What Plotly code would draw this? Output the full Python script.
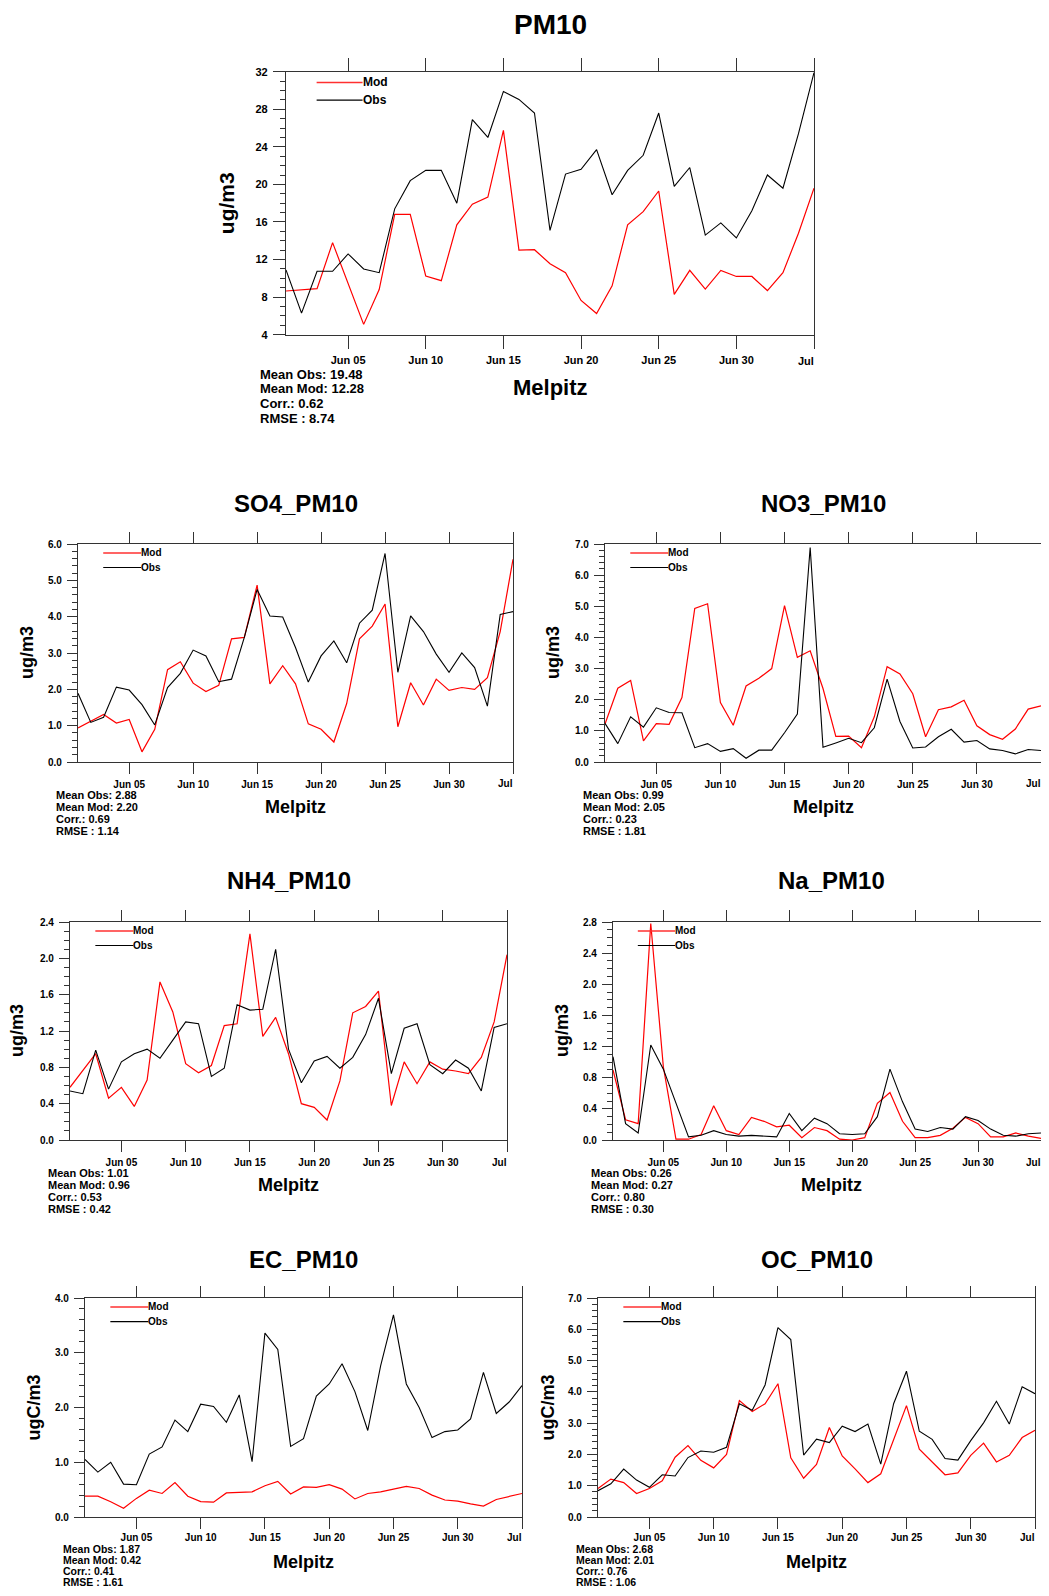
import plotly.graph_objects as go
import pandas as pd

# ---------------- data ----------------
dates = pd.date_range("2012-06-01", "2012-07-05", freq="D").strftime("%Y-%m-%d").tolist()
tick_dates = ["2012-06-05", "2012-06-10", "2012-06-15", "2012-06-20", "2012-06-25", "2012-06-30", "2012-07-05"]
tick_labels = ["Jun 05", "Jun 10", "Jun 15", "Jun 20", "Jun 25", "Jun 30", "Jul"]

pm10_obs = [10.9, 6.3, 10.75, 10.75, 12.6, 11.0, 10.6, 17.4, 20.4, 21.5, 21.5, 18.0, 26.9, 25.0, 29.9,
            29.05, 27.6, 15.1, 21.1, 21.6, 23.7, 18.9, 21.5, 23.1, 27.6, 19.8, 21.8, 14.6, 15.9, 14.3,
            17.2, 21.0, 19.6, 25.4, 31.9]
pm10_mod = [8.65, 8.8, 8.9, 13.8, 9.5, 5.1, 8.8, 16.8, 16.8, 10.25, 9.75, 15.7, 17.9, 18.65, 25.75,
            13.0, 13.05, 11.55, 10.6, 7.65, 6.25, 9.2, 15.7, 17.1, 19.3, 8.3, 10.85, 8.85, 10.85, 10.2,
            10.2, 8.7, 10.6, 14.8, 19.6]

so4_obs = [1.89, 1.09, 1.23, 2.06, 1.98, 1.58, 1.02, 2.05, 2.44, 3.08, 2.92, 2.21, 2.28, 3.43, 4.75,
           4.02, 3.99, 3.15, 2.2, 2.92, 3.33, 2.73, 3.82, 4.18, 5.74, 2.47, 4.02, 3.59, 2.97, 2.47,
           3.0, 2.6, 1.54, 4.06, 4.14]
so4_mod = [0.94, 1.12, 1.31, 1.07, 1.17, 0.28, 0.9, 2.54, 2.76, 2.17, 1.94, 2.11, 3.39, 3.43, 4.87,
           2.15, 2.65, 2.15, 1.05, 0.9, 0.55, 1.61, 3.39, 3.74, 4.35, 0.97, 2.18, 1.57, 2.28, 1.97,
           2.05, 2.0, 2.32, 3.59, 5.58]

no3_obs = [1.24, 0.59, 1.45, 1.12, 1.74, 1.59, 1.58, 0.46, 0.59, 0.34, 0.43, 0.12, 0.38, 0.38, 0.94,
           1.54, 6.89, 0.47, 0.61, 0.76, 0.62, 1.1, 2.66, 1.3, 0.45, 0.48, 0.81, 1.05, 0.64, 0.69,
           0.42, 0.37, 0.26, 0.4, 0.37]
no3_mod = [1.22, 2.37, 2.62, 0.68, 1.23, 1.21, 2.07, 4.93, 5.08, 1.91, 1.18, 2.44, 2.69, 3.0, 5.02,
           3.36, 3.57, 2.36, 0.82, 0.83, 0.46, 1.45, 3.06, 2.83, 2.19, 0.81, 1.68, 1.77, 1.98, 1.16,
           0.88, 0.73, 1.06, 1.7, 1.8]

nh4_obs = [0.54, 0.51, 0.99, 0.56, 0.86, 0.95, 1.0, 0.9, 1.1, 1.3, 1.28, 0.7, 0.79, 1.49, 1.43,
           1.44, 2.1, 1.0, 0.63, 0.87, 0.92, 0.79, 0.91, 1.16, 1.56, 0.73, 1.23, 1.28, 0.83, 0.73,
           0.88, 0.79, 0.54, 1.24, 1.28]
nh4_mod = [0.58, 0.77, 0.95, 0.46, 0.58, 0.37, 0.66, 1.74, 1.41, 0.84, 0.74, 0.82, 1.26, 1.28, 2.27,
           1.14, 1.35, 0.95, 0.4, 0.36, 0.22, 0.65, 1.4, 1.47, 1.64, 0.38, 0.86, 0.62, 0.86, 0.78,
           0.76, 0.73, 0.91, 1.3, 2.04]

na_obs = [1.07, 0.21, 0.09, 1.22, 0.91, 0.48, 0.04, 0.06, 0.12, 0.07, 0.05, 0.06, 0.05, 0.04, 0.34,
          0.12, 0.28, 0.21, 0.08, 0.07, 0.08, 0.3, 0.91, 0.49, 0.14, 0.11, 0.16, 0.14, 0.3, 0.25,
          0.14, 0.06, 0.05, 0.08, 0.09]
na_mod = [0.9, 0.26, 0.21, 2.78, 0.94, 0.01, 0.01, 0.07, 0.44, 0.12, 0.07, 0.29, 0.24, 0.17, 0.19,
          0.03, 0.16, 0.12, 0.01, 0.0, 0.03, 0.47, 0.61, 0.24, 0.03, 0.03, 0.06, 0.15, 0.29, 0.21,
          0.04, 0.04, 0.09, 0.05, 0.02]

ec_obs = [1.05, 0.82, 1.0, 0.6, 0.59, 1.15, 1.28, 1.77, 1.56, 2.06, 2.02, 1.73, 2.23, 1.01, 3.36,
          3.06, 1.29, 1.43, 2.21, 2.43, 2.8, 2.29, 1.58, 2.76, 3.69, 2.43, 2.0, 1.45, 1.56, 1.59,
          1.79, 2.64, 1.89, 2.1, 2.4]
ec_mod = [0.38, 0.38, 0.28, 0.16, 0.34, 0.49, 0.43, 0.63, 0.38, 0.28, 0.27, 0.44, 0.45, 0.46, 0.57,
          0.65, 0.42, 0.55, 0.54, 0.59, 0.51, 0.33, 0.43, 0.46, 0.51, 0.56, 0.52, 0.4, 0.31, 0.29,
          0.24, 0.2, 0.32, 0.38, 0.43]

oc_obs = [0.84, 1.06, 1.53, 1.18, 0.95, 1.35, 1.31, 1.9, 2.11, 2.07, 2.23, 3.62, 3.41, 4.22, 6.05,
          5.67, 1.98, 2.49, 2.38, 2.9, 2.73, 2.97, 1.69, 3.62, 4.66, 2.74, 2.48, 1.87, 1.82, 2.44,
          3.01, 3.7, 2.97, 4.16, 3.94]
oc_mod = [0.91, 1.21, 1.1, 0.75, 0.91, 1.16, 1.91, 2.28, 1.81, 1.57, 2.0, 3.72, 3.37, 3.62, 4.26,
          1.89, 1.24, 1.68, 2.86, 1.95, 1.54, 1.1, 1.38, 2.46, 3.56, 2.17, 1.76, 1.35, 1.41, 1.97,
          2.36, 1.76, 1.97, 2.54, 2.77]

pm10_stats = ["Mean Obs: 19.48", "Mean Mod: 12.28", "Corr.: 0.62", "RMSE : 8.74"]
so4_stats = ["Mean Obs: 2.88", "Mean Mod: 2.20", "Corr.: 0.69", "RMSE : 1.14"]
no3_stats = ["Mean Obs: 0.99", "Mean Mod: 2.05", "Corr.: 0.23", "RMSE : 1.81"]
nh4_stats = ["Mean Obs: 1.01", "Mean Mod: 0.96", "Corr.: 0.53", "RMSE : 0.42"]
na_stats = ["Mean Obs: 0.26", "Mean Mod: 0.27", "Corr.: 0.80", "RMSE : 0.30"]
ec_stats = ["Mean Obs: 1.87", "Mean Mod: 0.42", "Corr.: 0.41", "RMSE : 1.61"]
oc_stats = ["Mean Obs: 2.68", "Mean Mod: 2.01", "Corr.: 0.76", "RMSE : 1.06"]

station = "Melpitz"

# ---------------- layout (pixel geometry of the page) ----------------
PAGE_W, PAGE_H = 1049, 1596
BODY = 8                      # default browser body margin around the plot div
W, H = PAGE_W - 2 * BODY, PAGE_H - 2 * BODY
FONT = "Liberation Sans, Arial, Helvetica, sans-serif"
AX = "#333333"

panels = [
    dict(title="PM10", obs=pm10_obs, mod=pm10_mod, stats=pm10_stats, ylab="ug/m3",
         yr=(4, 32), dt=4, minor=1, fmt="d",
         l=286, r=814, t=71.7, b=334.7, ylab_x=226, stats_x=259, title_y=24,
         mel_y=388, st_y=374.5, st_dy=14.5, lab_dy=26,
         fs_title=28, fs_mel=22, fs_ylab=21, fs_stats=13, fs_tick=11, fs_leg=12, tl=13),
    dict(title="SO4_PM10", obs=so4_obs, mod=so4_mod, stats=so4_stats, ylab="ug/m3",
         yr=(0, 6), dt=1, minor=0.2, fmt=".1f",
         l=78, r=513, t=544, b=762, ylab_x=27, stats_x=55, title_y=503, mel_y=807, st_y=795),
    dict(title="NO3_PM10", obs=no3_obs, mod=no3_mod, stats=no3_stats, ylab="ug/m3",
         yr=(0, 7), dt=1, minor=0.2, fmt=".1f",
         l=605, r=1041, t=544, b=762, ylab_x=553, stats_x=582, title_y=503, mel_y=807, st_y=795),
    dict(title="NH4_PM10", obs=nh4_obs, mod=nh4_mod, stats=nh4_stats, ylab="ug/m3",
         yr=(0, 2.4), dt=0.4, minor=0.1, fmt=".1f",
         l=70, r=507, t=922, b=1140, ylab_x=17, stats_x=47, title_y=881, mel_y=1185, st_y=1173),
    dict(title="Na_PM10", obs=na_obs, mod=na_mod, stats=na_stats, ylab="ug/m3",
         yr=(0, 2.8), dt=0.4, minor=0.1, fmt=".1f",
         l=613, r=1050, t=922, b=1140, ylab_x=562, stats_x=590, title_y=881, mel_y=1185, st_y=1173),
    dict(title="EC_PM10", obs=ec_obs, mod=ec_mod, stats=ec_stats, ylab="ugC/m3",
         yr=(0, 4), dt=1, minor=0.2, fmt=".1f",
         l=85, r=522, t=1298, b=1517, ylab_x=33, stats_x=62, title_y=1259, mel_y=1562,
         st_y=1548.5, st_dy=11.2, fs_stats=10.5, standoff=0, lab_dy=20),
    dict(title="OC_PM10", obs=oc_obs, mod=oc_mod, stats=oc_stats, ylab="ugC/m3",
         yr=(0, 7), dt=1, minor=0.2, fmt=".1f",
         l=598, r=1035, t=1298, b=1517, ylab_x=547, stats_x=575, title_y=1259, mel_y=1562,
         st_y=1548.5, st_dy=11.2, fs_stats=10.5, standoff=0, lab_dy=20),
]

fig = go.Figure()
layout = dict(width=W, height=H, margin=dict(l=0, r=0, t=0, b=0, pad=0, autoexpand=False), autosize=False,
              paper_bgcolor="white", plot_bgcolor="white", showlegend=False,
              font=dict(family=FONT, color="black"))
annotations = []
shapes = []


def px_x(v):
    return min(1.0, max(0.0, (v - BODY) / W))


def px_y(v):
    return min(1.0, max(0.0, 1 - (v - BODY) / H))


for i, p in enumerate(panels, start=1):
    fs_title = p.get("fs_title", 24)
    fs_mel = p.get("fs_mel", 18)
    fs_ylab = p.get("fs_ylab", 18)
    fs_stats = p.get("fs_stats", 11)
    fs_tick = p.get("fs_tick", 10)
    fs_leg = p.get("fs_leg", 10)
    tl = p.get("tl", 11)
    st_dy = p.get("st_dy", 12)
    lab_dy = p.get("lab_dy", 22)
    standoff = p.get("standoff", 2)
    sfx = "" if i == 1 else str(i)

    fig.add_trace(go.Scatter(x=dates, y=p["mod"], mode="lines", name="Mod",
                             line=dict(color="#ff0000", width=1.2),
                             xaxis="x" + sfx, yaxis="y" + sfx))
    fig.add_trace(go.Scatter(x=dates, y=p["obs"], mode="lines", name="Obs",
                             line=dict(color="#000000", width=1.1),
                             xaxis="x" + sfx, yaxis="y" + sfx))

    # the last label ("Jul") sits left of its tick, so it is drawn separately below
    layout["xaxis" + sfx] = dict(
        domain=[px_x(p["l"]), px_x(p["r"])], anchor="y" + sfx, automargin=False,
        type="date", range=[dates[0], dates[-1]],
        tickmode="array", tickvals=tick_dates, ticktext=tick_labels[:-1] + [""],
        ticks="outside", ticklen=tl, tickwidth=1.2, tickcolor=AX,
        showline=True, linecolor=AX, linewidth=1.3, mirror="ticks",
        showgrid=False, zeroline=False, ticklabelstandoff=standoff,
        tickfont=dict(family=FONT, size=fs_tick, color="black", weight="bold"),
    )
    layout["yaxis" + sfx] = dict(
        domain=[px_y(p["b"]), px_y(p["t"])], anchor="x" + sfx, automargin=False,
        range=list(p["yr"]), tickmode="linear", tick0=p["yr"][0], dtick=p["dt"],
        tickformat=p["fmt"],
        ticks="outside", ticklen=tl - 1, tickwidth=1.2, tickcolor=AX,
        minor=dict(dtick=p["minor"], ticks="outside", ticklen=5, tickwidth=1, tickcolor=AX, showgrid=False),
        showline=True, linecolor=AX, linewidth=1.3, mirror=True,
        showgrid=False, zeroline=False, ticklabelstandoff=3, ticklabeloverflow="allow",
        tickfont=dict(family=FONT, size=fs_tick, color="black", weight="bold"),
    )

    annotations.append(dict(text=tick_labels[-1], x=tick_dates[-1], y=px_y(p["b"] + lab_dy),
                            xref="x" + sfx, yref="paper", xanchor="right", yanchor="middle",
                            showarrow=False, borderpad=0, xshift=1,
                            font=dict(family=FONT, size=fs_tick, color="black", weight="bold")))

    cx = (p["l"] + p["r"]) / 2
    cy = (p["t"] + p["b"]) / 2

    annotations.append(dict(text=p["title"], x=px_x(cx), y=px_y(p["title_y"]), xref="paper", yref="paper",
                            xanchor="center", yanchor="middle", showarrow=False,
                            font=dict(family=FONT, size=fs_title, color="black", weight="bold")))
    annotations.append(dict(text=station, x=px_x(cx), y=px_y(p["mel_y"]), xref="paper", yref="paper",
                            xanchor="center", yanchor="middle", showarrow=False,
                            font=dict(family=FONT, size=fs_mel, color="black", weight="bold")))
    annotations.append(dict(text=p["ylab"], x=px_x(p["ylab_x"]), y=px_y(cy), xref="paper", yref="paper",
                            xanchor="center", yanchor="middle", showarrow=False, textangle=-90,
                            font=dict(family=FONT, size=fs_ylab, color="black", weight="bold")))
    for k, s in enumerate(p["stats"]):
        annotations.append(dict(text=s, x=px_x(p["stats_x"]), y=px_y(p["st_y"] + k * st_dy),
                                xref="paper", yref="paper", xanchor="left", yanchor="middle",
                                showarrow=False, borderpad=0,
                                font=dict(family=FONT, size=fs_stats, color="black", weight="bold")))
    for name, col, w, yy in (("Mod", "#ff3030", 1.6, 0.959), ("Obs", "#000000", 1.1, 0.892)):
        shapes.append(dict(type="line", xref="x" + sfx + " domain", yref="y" + sfx + " domain",
                           x0=0.058, x1=0.145, y0=yy, y1=yy, line=dict(color=col, width=w)))
        annotations.append(dict(text=name, x=0.145, y=yy, xref="x" + sfx + " domain",
                                yref="y" + sfx + " domain", xanchor="left", yanchor="middle",
                                showarrow=False, borderpad=0, xshift=-1,
                                font=dict(family=FONT, size=fs_leg, color="black", weight="bold")))

layout["annotations"] = annotations
layout["shapes"] = shapes
fig.update_layout(**layout)
fig.write_html("out.html")
